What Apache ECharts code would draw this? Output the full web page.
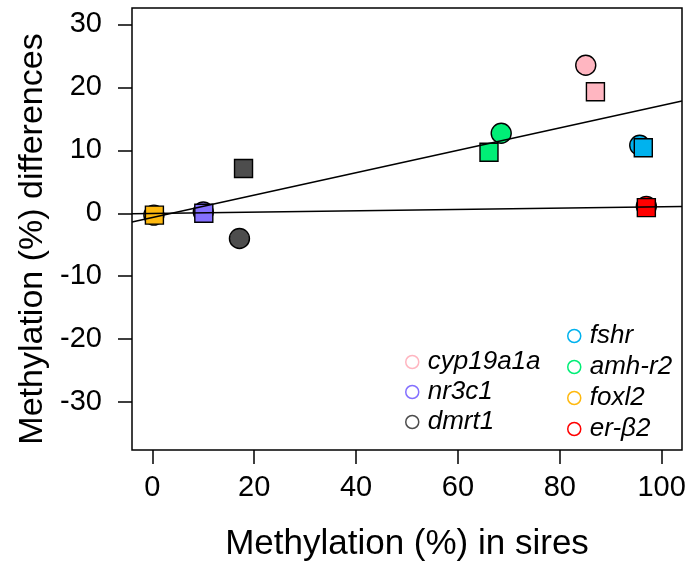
<!DOCTYPE html>
<html>
<head>
<meta charset="utf-8">
<script src="https://cdn.jsdelivr.net/npm/echarts@6/dist/echarts.min.js"></script>
<style>
  html, body { margin: 0; padding: 0; background: #fff; }
  #chart { width: 693px; height: 575px; }
</style>
</head>
<body>
<div id="chart"></div>
<script>
// Genes and their colours
const genes = ['cyp19a1a', 'nr3c1', 'dmrt1', 'fshr', 'amh-r2', 'foxl2', 'er-β2'];
const geneColors = ['#FFB6C1', '#8470FF', '#4D4D4D', '#00B2EE', '#00EE76', '#FFB90F', '#FF0000'];

// Circle markers: methylation in sires (x) vs difference (y)
const circleX = [85.1, 10.0, 17.1, 95.7, 68.5, 0.3, 97.0];
const circleY = [23.5, 0.2, -4.0, 10.8, 12.7, -0.3, 1.1];
// Square markers
const squareX = [87.0, 10.1, 17.9, 96.4, 66.1, 0.4, 97.0];
const squareY = [19.3, 0.0, 7.1, 10.4, 9.7, -0.3, 0.9];

// Fitted lines: intercept and slope
const fitIntercept = [-0.69, -0.02];
const fitSlope = [0.178, 0.0104];

// Axis ticks
const xTicks = [0, 20, 40, 60, 80, 100];
const yTicks = [-30, -20, -10, 0, 10, 20, 30];
const xRange = [-4, 104];
const yRange = [-37.6, 32.6];

const FONT = 'Liberation Sans, Arial, Helvetica, sans-serif';

const chart = echarts.init(document.getElementById('chart'), null, { renderer: 'canvas' });

const scatterSeries = genes.map((g, i) => ({
  type: 'scatter',
  name: g,
  z: 2,
  itemStyle: { color: geneColors[i], borderColor: '#000', borderWidth: 1.4, opacity: 1 },
  emphasis: { disabled: true },
  data: [
    { value: [circleX[i], circleY[i]], symbol: 'circle', symbolSize: 20 },
    { value: [squareX[i], squareY[i]], symbol: 'rect', symbolSize: 18 }
  ]
}));

const lineSeries = fitIntercept.map((b, k) => ({
  type: 'line',
  name: 'fit' + k,
  z: 3,
  silent: true,
  symbol: 'none',
  lineStyle: { color: '#000', width: 1.5 },
  data: xRange.map(x => [x, b + fitSlope[k] * x])
}));

function legendFor(names, left, top, gap) {
  return {
    orient: 'vertical',
    left: left,
    top: top,
    itemWidth: 13,
    itemHeight: 13,
    itemGap: gap,
    selectedMode: false,
    icon: 'circle',
    textStyle: { fontFamily: FONT, fontSize: 26, fontStyle: 'italic', color: '#000', padding: [0, 0, 0, 4] },
    data: names.map(n => {
      const i = genes.indexOf(n);
      return { name: n, itemStyle: { color: 'rgba(0,0,0,0)', borderColor: geneColors[i], borderWidth: 1.5 } };
    })
  };
}

chart.setOption({
  animation: false,
  backgroundColor: '#fff',
  grid: { left: 132, top: 8, width: 550, height: 442, show: true, borderColor: '#000', borderWidth: 1.5, backgroundColor: 'transparent' },
  legend: [
    legendFor(['cyp19a1a', 'nr3c1', 'dmrt1'], 400, 344, 4),
    legendFor(['fshr', 'amh-r2', 'foxl2', 'er-β2'], 562, 318, 5)
  ],
  xAxis: {
    type: 'value',
    min: xRange[0],
    max: xRange[1],
    name: 'Methylation (%) in sires',
    nameLocation: 'middle',
    nameGap: 77,
    nameTextStyle: { fontFamily: FONT, fontSize: 35, color: '#000' },
    axisLine: { show: false, onZero: false },
    splitLine: { show: false },
    axisTick: { show: true, inside: false, length: 14, lineStyle: { color: '#000', width: 1.5 }, customValues: xTicks },
    axisLabel: { fontFamily: FONT, fontSize: 29, color: '#000', margin: 23, customValues: xTicks }
  },
  yAxis: {
    type: 'value',
    min: yRange[0],
    max: yRange[1],
    name: 'Methylation (%) differences',
    nameLocation: 'middle',
    nameGap: 80,
    nameTextStyle: { fontFamily: FONT, fontSize: 34, color: '#000', padding: [0, 20, 0, 0] },
    axisLine: { show: false, onZero: false },
    splitLine: { show: false },
    axisTick: { show: true, inside: false, length: 14, lineStyle: { color: '#000', width: 1.5 }, customValues: yTicks },
    axisLabel: { fontFamily: FONT, fontSize: 29, color: '#000', margin: 30, customValues: yTicks }
  },
  series: scatterSeries.concat(lineSeries)
});
</script>
</body>
</html>
